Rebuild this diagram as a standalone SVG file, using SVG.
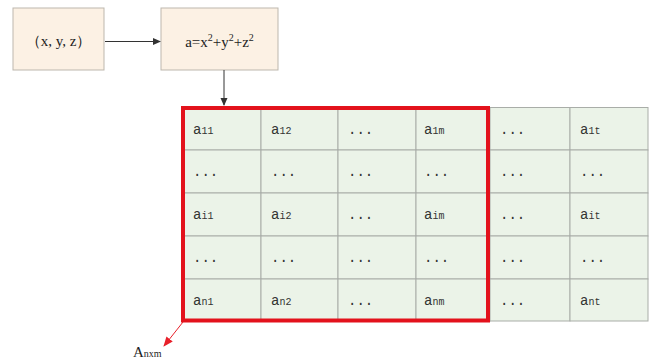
<svg xmlns="http://www.w3.org/2000/svg" width="650" height="362" viewBox="0 0 650 362">
<defs>
<style>
.box{fill:#fcf1e4;stroke:#bdb7ae;stroke-width:1}
.cell{fill:#ebf3e8;stroke:#a9ada8;stroke-width:1}
.t{font-family:"Liberation Serif",serif;font-size:15px;fill:#222}
.c{font-family:"Liberation Mono",monospace;font-size:14px;fill:#333}
.s{font-size:10px}
.conn{stroke:#333;stroke-width:1;fill:none}
</style>
<marker id="ah" markerWidth="8" markerHeight="8" refX="7" refY="4" orient="auto" markerUnits="userSpaceOnUse">
<path d="M0,0.5 L8,4 L0,7.5 Z" fill="#333"/>
</marker>
<marker id="ahr" markerWidth="10" markerHeight="10" refX="9" refY="5" orient="auto" markerUnits="userSpaceOnUse">
<path d="M0,1 L10,5 L0,9 Z" fill="#e8202a"/>
</marker>
</defs>
<rect width="650" height="362" fill="#fff"/>
<g id="node-xyz">
<rect class="box" x="13" y="8" width="91" height="62"/>
<text class="t" x="58.5" y="46" text-anchor="middle">（x, y, z）</text>
</g>
<g id="node-a">
<rect class="box" x="161" y="8" width="117" height="62"/>
<text class="t" x="219.5" y="47" text-anchor="middle">a=x<tspan class="s" dy="-6">2</tspan><tspan dy="6">+y</tspan><tspan class="s" dy="-6">2</tspan><tspan dy="6">+z</tspan><tspan class="s" dy="-6">2</tspan></text>
</g>
<g id="matrix">
<g id="cells">
<rect class="cell" x="183" y="107.5" width="78" height="42.5"/><rect class="cell" x="261" y="107.5" width="77" height="42.5"/><rect class="cell" x="338" y="107.5" width="78" height="42.5"/><rect class="cell" x="416" y="107.5" width="74" height="42.5"/><rect class="cell" x="490" y="107.5" width="80" height="42.5"/><rect class="cell" x="570" y="107.5" width="78" height="42.5"/>
<rect class="cell" x="183" y="150" width="78" height="43"/><rect class="cell" x="261" y="150" width="77" height="43"/><rect class="cell" x="338" y="150" width="78" height="43"/><rect class="cell" x="416" y="150" width="74" height="43"/><rect class="cell" x="490" y="150" width="80" height="43"/><rect class="cell" x="570" y="150" width="78" height="43"/>
<rect class="cell" x="183" y="193" width="78" height="43"/><rect class="cell" x="261" y="193" width="77" height="43"/><rect class="cell" x="338" y="193" width="78" height="43"/><rect class="cell" x="416" y="193" width="74" height="43"/><rect class="cell" x="490" y="193" width="80" height="43"/><rect class="cell" x="570" y="193" width="78" height="43"/>
<rect class="cell" x="183" y="236" width="78" height="43"/><rect class="cell" x="261" y="236" width="77" height="43"/><rect class="cell" x="338" y="236" width="78" height="43"/><rect class="cell" x="416" y="236" width="74" height="43"/><rect class="cell" x="490" y="236" width="80" height="43"/><rect class="cell" x="570" y="236" width="78" height="43"/>
<rect class="cell" x="183" y="279" width="78" height="42"/><rect class="cell" x="261" y="279" width="77" height="42"/><rect class="cell" x="338" y="279" width="78" height="42"/><rect class="cell" x="416" y="279" width="74" height="42"/><rect class="cell" x="490" y="279" width="80" height="42"/><rect class="cell" x="570" y="279" width="78" height="42"/>
</g>
<g id="labels">
<text class="c" x="193" y="134">a<tspan class="s">11</tspan></text>
<text class="c" x="271" y="134">a<tspan class="s">12</tspan></text>
<text class="c" x="348" y="134">...</text>
<text class="c" x="424" y="134">a<tspan class="s">1m</tspan></text>
<text class="c" x="500" y="134">...</text>
<text class="c" x="580" y="134">a<tspan class="s">1t</tspan></text>
<text class="c" x="193" y="176">...</text>
<text class="c" x="271" y="176">...</text>
<text class="c" x="348" y="176">...</text>
<text class="c" x="424" y="176">...</text>
<text class="c" x="500" y="176">...</text>
<text class="c" x="580" y="176">...</text>
<text class="c" x="193" y="219">a<tspan class="s">i1</tspan></text>
<text class="c" x="271" y="219">a<tspan class="s">i2</tspan></text>
<text class="c" x="348" y="219">...</text>
<text class="c" x="424" y="219">a<tspan class="s">im</tspan></text>
<text class="c" x="500" y="219">...</text>
<text class="c" x="580" y="219">a<tspan class="s">it</tspan></text>
<text class="c" x="193" y="262">...</text>
<text class="c" x="271" y="262">...</text>
<text class="c" x="348" y="262">...</text>
<text class="c" x="424" y="262">...</text>
<text class="c" x="500" y="262">...</text>
<text class="c" x="580" y="262">...</text>
<text class="c" x="193" y="305">a<tspan class="s">n1</tspan></text>
<text class="c" x="271" y="305">a<tspan class="s">n2</tspan></text>
<text class="c" x="348" y="305">...</text>
<text class="c" x="424" y="305">a<tspan class="s">nm</tspan></text>
<text class="c" x="500" y="305">...</text>
<text class="c" x="580" y="305">a<tspan class="s">nt</tspan></text>
</g>
<rect id="submatrix" x="183" y="108" width="305" height="212.5" fill="none" stroke="#e3121c" stroke-width="4"/>
</g>
<g id="label-anxm">
<text class="t" x="133" y="357" font-size="14">A<tspan class="s">nxm</tspan></text>
</g>
<g id="connectors">
<line class="conn" x1="105" y1="41.5" x2="160" y2="41.5" marker-end="url(#ah)"/>
<line class="conn" x1="224" y1="70" x2="224" y2="105" marker-end="url(#ah)"/>
<line x1="183" y1="322" x2="164" y2="346" stroke="#e8202a" stroke-width="1" marker-end="url(#ahr)"/>
</g>
</svg>
